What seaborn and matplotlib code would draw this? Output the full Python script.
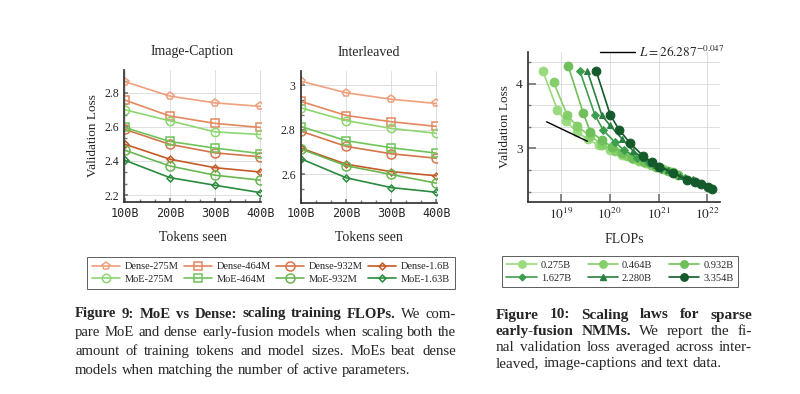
import numpy as np
import matplotlib
matplotlib.use("Agg")
import matplotlib.pyplot as plt
import seaborn as sns
from matplotlib.lines import Line2D
from matplotlib.transforms import IdentityTransform
from matplotlib.ticker import AutoMinorLocator, FixedLocator, NullLocator

# --- data ---
tokens = [100, 200, 300, 400]
token_labels = ["100B", "200B", "300B", "400B"]
models = ["Dense-275M", "Dense-464M", "Dense-932M", "Dense-1.6B",
          "MoE-275M", "MoE-464M", "MoE-932M", "MoE-1.63B"]

image_caption_loss = [
    [2.865, 2.780, 2.740, 2.720],   # Dense-275M
    [2.757, 2.663, 2.620, 2.596],   # Dense-464M
    [2.585, 2.497, 2.447, 2.424],   # Dense-932M
    [2.498, 2.410, 2.360, 2.335],   # Dense-1.6B
    [2.700, 2.635, 2.570, 2.555],   # MoE-275M
    [2.596, 2.514, 2.475, 2.443],   # MoE-464M
    [2.463, 2.370, 2.316, 2.287],   # MoE-932M
    [2.404, 2.302, 2.257, 2.214],   # MoE-1.63B
]
interleaved_loss = [
    [3.019, 2.967, 2.938, 2.919],
    [2.928, 2.865, 2.837, 2.816],
    [2.794, 2.726, 2.693, 2.673],
    [2.718, 2.646, 2.613, 2.594],
    [2.899, 2.842, 2.807, 2.785],
    [2.815, 2.752, 2.720, 2.696],
    [2.714, 2.639, 2.600, 2.561],
    [2.670, 2.585, 2.541, 2.520],
]

sizes = ["0.275B", "0.464B", "0.932B", "1.627B", "2.280B", "3.354B"]
# log10 of FLOPs
flops_exp = [
    [18.63, 18.93, 19.10, 19.32, 19.55, 19.78, 20.00, 20.25, 20.50, 20.75, 21.00],
    [18.85, 19.13, 19.34, 19.60, 19.85, 20.10, 20.35, 20.60, 20.85, 21.10, 21.30],
    [19.15, 19.46, 19.60, 19.84, 20.05, 20.25, 20.45, 20.70, 20.95, 21.20, 21.40],
    [19.39, 19.70, 19.87, 20.10, 20.30, 20.55, 20.80, 21.05, 21.30, 21.55, 21.70],
    [19.54, 19.84, 20.00, 20.25, 20.48, 20.70, 20.95, 21.20, 21.45, 21.70, 21.85],
    [19.72, 20.01, 20.19, 20.42, 20.69, 20.87, 21.02, 21.30, 21.59, 21.75, 21.88, 22.02, 22.09],
]
final_loss = [
    [4.19, 3.59, 3.42, 3.26, 3.14, 3.05, 2.97, 2.90, 2.83, 2.77, 2.71],
    [4.02, 3.51, 3.34, 3.19, 3.06, 2.96, 2.89, 2.81, 2.74, 2.68, 2.63],
    [4.27, 3.54, 3.26, 3.13, 3.02, 2.93, 2.86, 2.79, 2.72, 2.65, 2.59],
    [4.19, 3.51, 3.28, 3.10, 2.97, 2.86, 2.77, 2.69, 2.62, 2.55, 2.51],
    [4.20, 3.51, 3.36, 3.15, 2.96, 2.85, 2.75, 2.67, 2.58, 2.51, 2.46],
    [4.20, 3.52, 3.29, 3.08, 2.88, 2.79, 2.72, 2.62, 2.51, 2.49, 2.45, 2.40, 2.38],
]
fit_flops = [5.1e18, 3.5e19]
fit_loss = [3.41, 3.11]

# --- styles ---
pair_colors = ["#EFA07C", "#E4885F", "#D5754B", "#C45A26",
               "#8DD670", "#6EC458", "#6AB654", "#2B8B3E"]
pair_markers = ["p", "s", "o", "D", "o", "s", "o", "D"]
pair_ms = [6, 6, 6.5, 3.5, 6, 6, 6.5, 3.5]
size_colors = ["#9ADB7E", "#84CF6A", "#6FC05A", "#3E9E4E", "#2A7F40", "#145A2A"]
size_markers = ["o", "o", "o", "D", "^", "o"]
size_ms = [6.3, 6.3, 6.3, 4, 5, 6.3]

SERIF = "Liberation Serif"
MONO = "DejaVu Sans Mono"
W, H = 800, 394

sns.set_theme(style="ticks")
plt.rcParams["font.family"] = [SERIF, "DejaVu Serif"]
plt.rcParams["mathtext.fontset"] = "stix"
plt.rcParams["axes.edgecolor"] = "#333333"

fig = plt.figure(figsize=(W / 100, H / 100), dpi=100)
fig.patch.set_facecolor("white")


def box(l, t, r, b):
    return [l / W, (H - b) / H, (r - l) / W, (b - t) / H]


ax1 = fig.add_axes(box(124, 70, 261, 202))
ax2 = fig.add_axes(box(300.5, 71, 437, 202.5))
ax3 = fig.add_axes(box(527.7, 51.7, 720, 202.3))

# --- Figure 9 panels ---
for ax, values, title in ((ax1, image_caption_loss, "Image-Caption"),
                          (ax2, interleaved_loss, "Interleaved")):
    for ys, c, m, ms in zip(values, pair_colors, pair_markers, pair_ms):
        sns.lineplot(x=tokens, y=ys, ax=ax, color=c, lw=1.2, marker=m, ms=ms,
                     mfc="none", mec=c, mew=1.1, legend=False)
    ax.set_xticks(tokens)
    ax.set_xticklabels(token_labels, family=MONO, fontsize=7)
    ax.set_xlim(98.5, 401.5)
    ax.xaxis.set_minor_locator(AutoMinorLocator(3))
    ax.yaxis.set_minor_locator(AutoMinorLocator(3))
    ax.set_title(title, fontsize=10, pad=11)
    ax.set_xlabel("Tokens seen", fontsize=10, labelpad=8)
    ax.grid(True, which="major", color="#d9d9d9", lw=0.6)
    ax.set_axisbelow(True)
    sns.despine(ax=ax)
    ax.tick_params(which="both", direction="in", labelsize=8.5, color="#777777")
    ax.tick_params(which="major", length=3)
    ax.tick_params(which="minor", length=2)

ax1.set_ylim(2.159, 2.933)
ax1.set_yticks([2.2, 2.4, 2.6, 2.8])
ax1.set_ylabel("Validation Loss", fontsize=9.5)
ax2.set_ylim(2.474, 3.065)
ax2.set_yticks([2.6, 2.8, 3.0])
ax2.set_yticklabels(["2.6", "2.8", "3"])
ax2.set_ylabel("")

# --- Figure 10 panel ---
for xs, ys, c, m, ms in zip(flops_exp, final_loss, size_colors, size_markers, size_ms):
    sns.lineplot(x=10 ** np.array(xs), y=ys, ax=ax3, color=c, lw=1.2, marker=m,
                 ms=ms, mfc=c, mec=c, legend=False)
sns.lineplot(x=fit_flops, y=fit_loss, ax=ax3, color="black", lw=1.0, legend=False)
ax3.set_xscale("log")
ax3.set_xlim(10 ** 18.32, 10 ** 22.26)
ax3.set_ylim(2.17, 4.49)
ax3.set_xticks([1e19, 1e20, 1e21, 1e22])
ax3.set_xticklabels([r"$10^{19}$", r"$10^{20}$", r"$10^{21}$", r"$10^{22}$"])
ax3.xaxis.set_minor_locator(NullLocator())
ax3.set_yticks([3, 4])
ax3.yaxis.set_minor_locator(FixedLocator([2.333, 2.667, 3.333, 3.667, 4.333]))
ax3.grid(True, which="both", color="#d9d9d9", lw=0.6)
ax3.set_axisbelow(True)
sns.despine(ax=ax3)
ax3.tick_params(which="both", direction="in", labelsize=9.5, color="#777777")
ax3.tick_params(which="minor", length=2)
ax3.set_xlabel("FLOPs", fontsize=10, labelpad=8)
ax3.set_ylabel("Validation Loss", fontsize=9.5)
ax3.legend(handles=[Line2D([], [], color="black", lw=1.0)],
           labels=[r"$L = 26.287^{-0.047}$"], loc="center left",
           bbox_to_anchor=(0.35, 0.995), frameon=False, fontsize=9.5,
           handlelength=2.6, handletextpad=0.3, borderaxespad=0)

# --- legends ---
order = [0, 4, 1, 5, 2, 6, 3, 7]
h9 = [Line2D([], [], color=pair_colors[i], lw=1.2, marker=pair_markers[i],
             ms=pair_ms[i], mfc="none", mec=pair_colors[i], mew=1.1) for i in order]
leg9 = fig.legend(h9, [models[i] for i in order], ncol=4, fontsize=7.5,
                  loc="center", bbox_to_anchor=(271 / W, 1 - 273 / H),
                  frameon=True, fancybox=False, edgecolor="#333333",
                  handlelength=2.7, handletextpad=0.5, columnspacing=0.45,
                  labelspacing=0.35, borderpad=0.45)
leg9.get_frame().set_linewidth(0.7)

order10 = [0, 3, 1, 4, 2, 5]
h10 = [Line2D([], [], color=size_colors[i], lw=1.2, marker=size_markers[i],
              ms=size_ms[i] * 0.85, mfc=size_colors[i], mec=size_colors[i]) for i in order10]
leg10 = fig.legend(h10, [sizes[i] for i in order10], ncol=3, fontsize=7.5,
                   loc="center", bbox_to_anchor=(620 / W, 1 - 271.5 / H),
                   frameon=True, fancybox=False, edgecolor="#333333",
                   handlelength=2.9, handletextpad=0.4, columnspacing=1.6,
                   labelspacing=0.35, borderpad=0.45)
leg10.get_frame().set_linewidth(0.7)

# --- captions, justified word by word ---
renderer = fig.canvas.get_renderer()


def caption_line(words, x0, x1, y_top, size, justify=True):
    objs = []
    for text, weight in words:
        t = fig.text(0, 0, text, fontsize=size, weight=weight, family=SERIF,
                     va="baseline", transform=IdentityTransform())
        objs.append(t)
    widths = [t.get_window_extent(renderer).width for t in objs]
    space = 0.25 * size * 100 / 72
    if justify and len(objs) > 1:
        gap = (x1 - x0 - sum(widths)) / (len(objs) - 1)
    else:
        gap = space
    x = x0
    for t, w in zip(objs, widths):
        t.set_position((x, H - y_top))
        x += w + gap


def words(s, weight="normal"):
    return [(w, weight) for w in s.split()]


cap9 = [
    words("Figure 9: MoE vs Dense: scaling training FLOPs.", "bold") + words("We com-"),
    words("pare MoE and dense early-fusion models when scaling both the"),
    words("amount of training tokens and model sizes. MoEs beat dense"),
    words("models when matching the number of active parameters."),
]
for i, line in enumerate(cap9):
    caption_line(line, 75, 456, 317.5 + 18.7 * i, 10.6, justify=i < len(cap9) - 1)

cap10 = [
    words("Figure 10: Scaling laws for sparse", "bold"),
    words("early-fusion NMMs.", "bold") + words("We report the fi-"),
    words("nal validation loss averaged across inter-"),
    words("leaved, image-captions and text data."),
]
for i, line in enumerate(cap10):
    caption_line(line, 496, 752, 318.5 + 16.3 * i, 11, justify=i < len(cap10) - 1)

fig.savefig("out.png", dpi=100, facecolor="white")
